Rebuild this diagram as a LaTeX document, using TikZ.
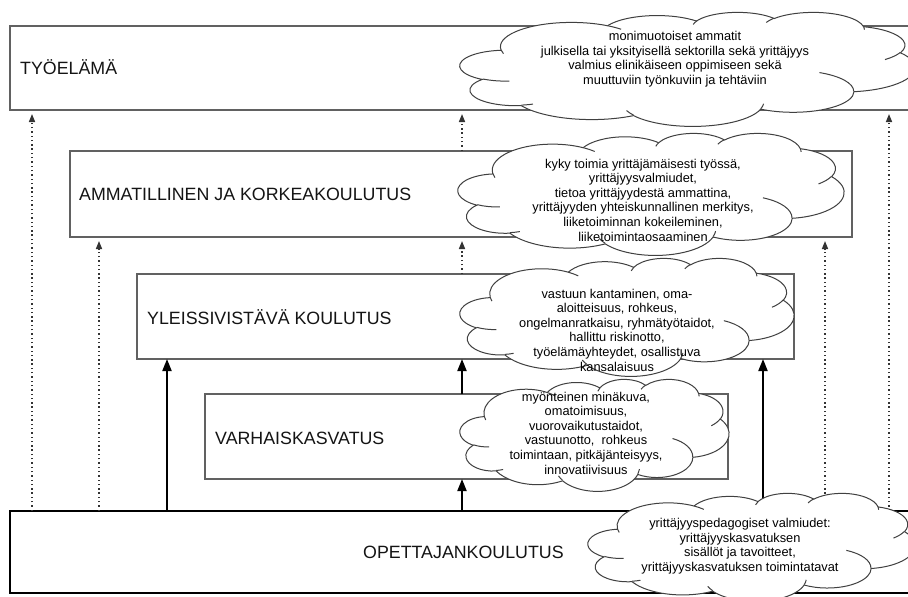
\documentclass[tikz,border=0pt]{standalone}
\usepackage{fontspec}
\setmainfont{Liberation Sans}
\usetikzlibrary{arrows.meta}

% Elliptical arc whose start angle is measured along the ray from the centre
% (radii in the 43.2 x 43.2 cloud frame, y axis pointing down).
\newcommand\rayArc[4]{%
  \pgfextra{%
    \pgfmathparse{atan2((#1)*sin(#3),(#2)*cos(#3))}\global\let\arcTs\pgfmathresult
    \pgfmathparse{atan2((#1)*sin((#3)+(#4)),(#2)*cos((#3)+(#4)))}\global\let\arcTe\pgfmathresult
    \pgfmathparse{\arcTe-\arcTs}\global\let\arcD\pgfmathresult
    \pgfmathparse{\arcD+360*round(((#4)-\arcD)/360)}\global\let\arcD\pgfmathresult
  }%
  arc[start angle=\arcTs, delta angle=\arcD, x radius=#1, y radius=#2]%
}

% outer rim of a callout cloud
\newcommand\cloudRim{%
  (3.9,14.37)
  \rayArc{6.753}{9.19}{-190.487483}{123.780533}
  \rayArc{5.333}{7.267}{-144.102383}{89.945233}
  \rayArc{4.365}{5.945}{-145.807917}{99.723017}
  \rayArc{4.857}{6.595}{-130.986067}{117.241733}
  \rayArc{5.333}{7.273}{-78.708883}{109.026917}
  \rayArc{6.775}{9.22}{-46.26725}{130.269}
  \rayArc{5.785}{7.867}{0.625017}{114.033333}
  \rayArc{6.752}{9.215}{22.4516}{115.17255}
  \rayArc{7.72}{10.543}{66.242633}{75.711017}
  \rayArc{4.36}{5.918}{-274.942083}{146.735567}
  \rayArc{4.345}{5.945}{-246.8285}{152.51885}
  -- cycle}

% small inner curls of the cloud
\newcommand\cloudCurls{%
  (4.693,26.177) \rayArc{4.345}{5.945}{86.742}{26.4295}
  (6.928,34.899) \rayArc{4.36}{5.918}{73.610467}{11.447467}
  (16.478,39.09) \rayArc{6.752}{9.215}{137.62415}{14.0811}
  (28.827,34.751) \rayArc{6.752}{9.215}{6.453267}{15.99835}
  (34.129,22.954) \rayArc{5.785}{7.867}{-70.29235}{70.917367}
  (41.798,15.354) \rayArc{5.333}{7.273}{30.318033}{27.7515}
  (38.324,5.426) \rayArc{4.857}{6.595}{-13.744333}{14.8589}
  (29.078,3.952) \rayArc{4.857}{6.595}{-149.18145}{18.195367}
  (22.141,4.72) \rayArc{4.365}{5.945}{-163.494267}{17.68635}
  (14,5.192) \rayArc{6.753}{9.19}{-66.70695}{12.31935}
  (4.127,15.789) \rayArc{6.753}{9.19}{157.65435}{11.858167}}

% cloud in the frame with top left corner (#1,-#2), width #3, height #4
\newcommand\frameCloud[4]{%
  \pgfmathsetmacro\cloudSx{(#3)/43.2}%
  \pgfmathsetmacro\cloudSy{-(#4)/43.2}%
  \begin{scope}[shift={(#1,-#2)}, xscale=\cloudSx, yscale=\cloudSy]
    \filldraw[cloudrim] \cloudRim;
    \draw[cloudrim] \cloudCurls;
  \end{scope}}

\begin{document}
\begin{tikzpicture}[x=1pt, y=1pt,
  layer/.style={draw=black!62, line width=1.4pt, inner sep=0pt, outer sep=0pt, anchor=north west},
  baselayer/.style={draw=black, line width=2.6pt, inner sep=0pt, outer sep=0pt, anchor=north west},
  layertext/.style={anchor=base west, inner sep=0pt, text=black!92, font=\fontsize{17.8}{20}\selectfont},
  cloudrim/.style={draw=black!75, fill=white, line width=1pt},
  cloudtext/.style={align=center, inner sep=0pt, text=black, font=\fontsize{12.8}{14.6}\selectfont},
  solidarrow/.style={draw=black, line width=1.9pt, -{Triangle[length=12pt, width=9pt]}},
  dotarrow/.style={draw=black!80, line width=1.5pt, dash pattern=on 1.4pt off 2.9pt,
    shorten >=4pt, -{Triangle[length=8pt, width=6pt]}}]

\useasboundingbox (0,0) rectangle (908,-597);
\clip (0,0) rectangle (908,-597);
\fill[white] (0,0) rectangle (908,-597);

% the five levels
\node[layer, minimum width=905pt, minimum height=84pt] (tyo) at (10,-26) {};
\node[layer, minimum width=782pt, minimum height=86pt] (amm) at (70,-151) {};
\node[layer, minimum width=657pt, minimum height=85pt] (yle) at (137,-274) {};
\node[layer, minimum width=523pt, minimum height=85pt] (var) at (205,-394) {};
\node[baselayer, minimum width=905pt, minimum height=82pt] (opet) at (10,-511) {};

\node[layertext] (lTyo) at (20,-74) {TYÖELÄMÄ};
\node[layertext] (lAmm) at (79,-200) {AMMATILLINEN JA KORKEAKOULUTUS};
\node[layertext] (lYle) at (147,-324) {YLEISSIVISTÄVÄ KOULUTUS};
\node[layertext] (lVar) at (215,-444) {VARHAISKASVATUS};
\node[layertext] (lOpet) at (363,-558) {OPETTAJANKOULUTUS};

% columns of the connectors
\coordinate (colA) at (32,0);
\coordinate (colB) at (99,0);
\coordinate (colC) at (167,0);
\coordinate (colM) at (462,0);
\coordinate (colR) at (763,0);
\coordinate (colS) at (825,0);
\coordinate (colT) at (889,0);

\draw[dotarrow] (colA |- opet.north) -- (colA |- tyo.south);
\draw[dotarrow] (colB |- opet.north) -- (colB |- amm.south);
\draw[solidarrow] (colC |- opet.north) -- (colC |- yle.south);
\draw[dotarrow] (colM |- amm.north) -- (colM |- tyo.south);
\draw[dotarrow] (colM |- yle.north) -- (colM |- amm.south);
\draw[solidarrow] (colM |- var.north) -- (colM |- yle.south);
\draw[solidarrow] (colM |- opet.north) -- (colM |- var.south);
\draw[solidarrow] (colR |- opet.north) -- (colR |- yle.south);
\draw[dotarrow] (colS |- opet.north) -- (colS |- amm.south);
\draw[dotarrow] (colT |- opet.north) -- (colT |- tyo.south);

% clouds with the competences of each level
\frameCloud{460}{12}{455}{114}
\frameCloud{458}{133}{386}{122}
\frameCloud{460}{258}{334}{118}
\frameCloud{460}{379}{269}{112}
\frameCloud{588}{493}{327}{108}

\node[cloudtext] (tTyo) at (675,-59) {monimuotoiset ammatit\\julkisella tai yksityisellä sektorilla sekä yrittäjyys\\valmius elinikäiseen oppimiseen sekä\\muuttuviin työnkuviin ja tehtäviin};
\node[cloudtext] (tAmm) at (643,-200) {kyky toimia yrittäjämäisesti työssä,\\yrittäjyysvalmiudet,\\tietoa yrittäjyydestä ammattina,\\yrittäjyyden yhteiskunnallinen merkitys,\\liiketoiminnan kokeileminen,\\liiketoimintaosaaminen};
\node[cloudtext] (tYle) at (617,-330) {vastuun kantaminen, oma-\\aloitteisuus, rohkeus,\\ongelmanratkaisu, ryhmätyötaidot,\\hallittu riskinotto,\\työelämäyhteydet, osallistuva\\kansalaisuus};
\node[cloudtext] (tVar) at (586,-433) {myönteinen minäkuva,\\omatoimisuus,\\vuorovaikutustaidot,\\vastuunotto,\ \ rohkeus\\toimintaan, pitkäjänteisyys,\\innovatiivisuus};
\node[cloudtext] (tOpet) at (740,-546) {yrittäjyyspedagogiset valmiudet:\\yrittäjyyskasvatuksen\\sisällöt ja tavoitteet,\\yrittäjyyskasvatuksen toimintatavat};
\end{tikzpicture}
\end{document}
